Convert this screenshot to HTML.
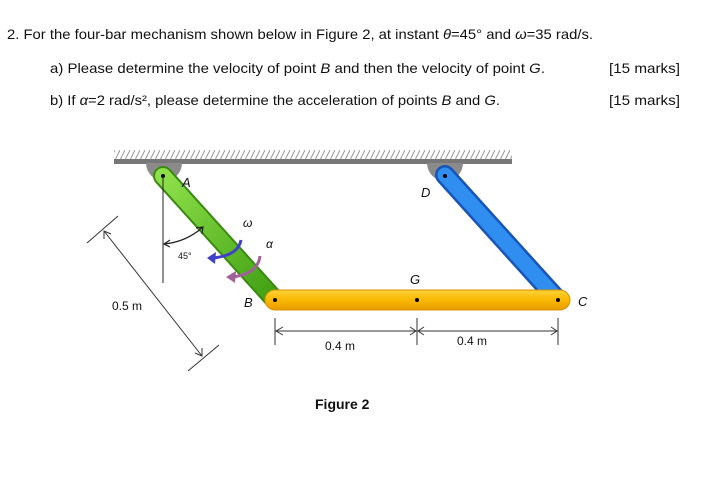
<!DOCTYPE html>
<html><head><meta charset="utf-8"><style>
html,body{margin:0;padding:0;background:#fff;}
svg{display:block;}
text{font-family:"Liberation Sans",sans-serif;fill:#111;}
</style></head><body>
<svg width="711" height="482" viewBox="0 0 711 482">
<defs>
<pattern id="h" width="5" height="10" patternUnits="userSpaceOnUse">
<line x1="0" y1="10" x2="5" y2="0" stroke="#999" stroke-width="1"/>
</pattern>
<linearGradient id="gg" x1="0" y1="0" x2="1" y2="1"><stop offset="0" stop-color="#8ee04a"/><stop offset="1" stop-color="#3f9e12"/></linearGradient>
<linearGradient id="yg" x1="0" y1="0" x2="0" y2="1"><stop offset="0" stop-color="#ffd23a"/><stop offset="0.5" stop-color="#f9b800"/><stop offset="1" stop-color="#e89a00"/></linearGradient>
</defs>
<text x="7" y="39" font-size="14" textLength="586" lengthAdjust="spacingAndGlyphs">2. For the four-bar mechanism shown below in Figure 2, at instant <tspan font-style="italic">θ</tspan>=45° and <tspan font-style="italic">ω</tspan>=35 rad/s.</text>
<text x="50" y="73" font-size="14" textLength="495" lengthAdjust="spacingAndGlyphs">a) Please determine the velocity of point <tspan font-style="italic">B</tspan> and then the velocity of point <tspan font-style="italic">G</tspan>.</text>
<text x="609" y="73" font-size="14" textLength="71" lengthAdjust="spacingAndGlyphs">[15 marks]</text>
<text x="50" y="105" font-size="14" textLength="450" lengthAdjust="spacingAndGlyphs">b) If <tspan font-style="italic">α</tspan>=2 rad/s², please determine the acceleration of points <tspan font-style="italic">B</tspan> and <tspan font-style="italic">G</tspan>.</text>
<text x="609" y="105" font-size="14" textLength="71" lengthAdjust="spacingAndGlyphs">[15 marks]</text>

<rect x="114" y="150" width="398" height="10" fill="url(#h)"/>
<rect x="114" y="159" width="398" height="5" fill="#777"/>
<path d="M146,163 A18,18 0 0 0 182,163 Z" fill="#8a8a8a"/>
<path d="M427,163 A18,18 0 0 0 463,163 Z" fill="#8a8a8a"/>

<line x1="163" y1="176" x2="275" y2="300" stroke="#3a8a10" stroke-width="20" stroke-linecap="round"/>
<line x1="163" y1="176" x2="275" y2="300" stroke="url(#gg)" stroke-width="16" stroke-linecap="round"/>
<line x1="445" y1="175" x2="558" y2="300" stroke="#1855b8" stroke-width="20" stroke-linecap="round"/>
<line x1="445" y1="175" x2="558" y2="300" stroke="#2f8ef0" stroke-width="15" stroke-linecap="round"/>
<rect x="265" y="290" width="305" height="20" rx="10" fill="url(#yg)" stroke="#d99000" stroke-width="1"/>
<circle cx="163" cy="176" r="2" fill="#000"/>
<circle cx="445" cy="176" r="2" fill="#000"/>
<circle cx="275" cy="300" r="2" fill="#000"/>
<circle cx="417" cy="300" r="2" fill="#000"/>
<circle cx="558" cy="300" r="2" fill="#000"/>

<line x1="163" y1="176" x2="163" y2="283" stroke="#222" stroke-width="1"/>
<path d="M164,244 A68,68 0 0 0 203,227" fill="none" stroke="#222" stroke-width="1.2"/>
<path d="M170,240 L164,244 L170,247" fill="none" stroke="#222" stroke-width="1.2"/>
<path d="M196,228 L203,227 L202,234" fill="none" stroke="#222" stroke-width="1.2"/>
<text x="178" y="259" font-size="9">45°</text>
<path d="M241,240 Q238,256 212,258" fill="none" stroke="#4040c8" stroke-width="3"/>
<path d="M207,258 L216,252 L215,264 Z" fill="#4040c8"/>
<path d="M260,256 Q258,274 232,277" fill="none" stroke="#a0609a" stroke-width="3"/>
<path d="M226,277 L236,271 L235,283 Z" fill="#a0609a"/>
<text x="243" y="227" font-size="12" font-style="italic">ω</text>
<text x="266" y="248" font-size="12" font-style="italic">α</text>

<text x="182" y="187" font-size="13" font-style="italic">A</text>
<text x="421" y="197" font-size="13" font-style="italic">D</text>
<text x="410" y="284" font-size="13" font-style="italic">G</text>
<text x="244" y="307" font-size="13" font-style="italic">B</text>
<text x="578" y="306" font-size="13" font-style="italic">C</text>

<line x1="275" y1="318" x2="275" y2="345" stroke="#333"/>
<line x1="417" y1="318" x2="417" y2="345" stroke="#333"/>
<line x1="558" y1="318" x2="558" y2="345" stroke="#333"/>
<line x1="276" y1="331" x2="416" y2="331" stroke="#333"/>
<path d="M283,327 L276,331 L283,335" fill="none" stroke="#333"/>
<path d="M410,327 L416,331 L410,335" fill="none" stroke="#333"/>
<line x1="418" y1="331" x2="557" y2="331" stroke="#333"/>
<path d="M424,327 L418,331 L424,335" fill="none" stroke="#333"/>
<path d="M551,327 L557,331 L551,335" fill="none" stroke="#333"/>
<text x="325" y="350" font-size="12">0.4 m</text>
<text x="457" y="345" font-size="12">0.4 m</text>

<line x1="87" y1="243" x2="118" y2="216" stroke="#333"/>
<line x1="188" y1="371" x2="219" y2="345" stroke="#333"/>
<line x1="104" y1="231" x2="202" y2="356" stroke="#333"/>
<path d="M104,239 L104,231 L111,234" fill="none" stroke="#333"/>
<path d="M202,348 L202,356 L195,353" fill="none" stroke="#333"/>
<text x="112" y="310" font-size="12">0.5 m</text>

<text x="315" y="409" font-size="14" font-weight="bold">Figure 2</text>
</svg>
</body></html>
